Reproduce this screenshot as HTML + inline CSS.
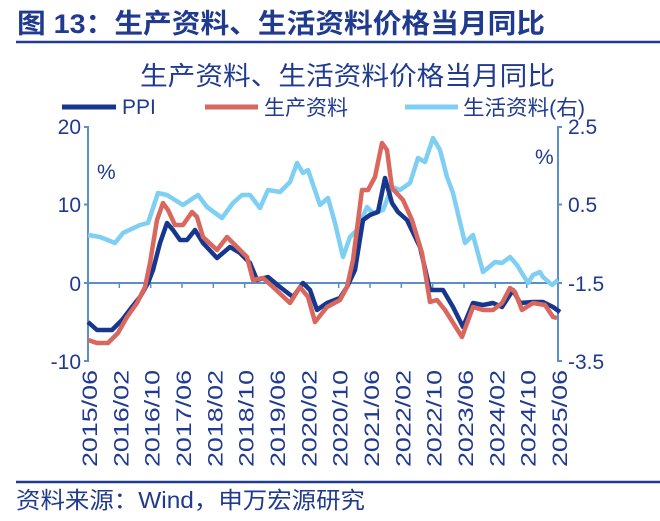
<!DOCTYPE html>
<html><head><meta charset="utf-8"><style>
body{margin:0;background:#fff;}
svg{display:block;font-family:"Liberation Sans","Noto Sans CJK SC",sans-serif;}
</style></head><body>
<svg width="660" height="521" viewBox="0 0 660 521" xmlns="http://www.w3.org/2000/svg">
<text x="17" y="33" font-size="27" font-weight="bold" fill="#1f3a8f" textLength="528" lengthAdjust="spacingAndGlyphs">图 13：生产资料、生活资料价格当月同比</text>
<line x1="16" y1="42" x2="660" y2="42" stroke="#1f3a8f" stroke-width="2.5"/>
<text x="140" y="85" font-size="26" fill="#1f3a8f" textLength="415" lengthAdjust="spacingAndGlyphs">生产资料、生活资料价格当月同比</text>
<line x1="62" y1="107" x2="116" y2="107" stroke="#17378f" stroke-width="5"/>
<text x="122" y="114" font-size="21" fill="#1f3a8f">PPI</text>
<line x1="205" y1="107" x2="258" y2="107" stroke="#d9675e" stroke-width="5"/>
<text x="264" y="115" font-size="21" fill="#1f3a8f">生产资料</text>
<line x1="405" y1="107" x2="458" y2="107" stroke="#7fcff3" stroke-width="5"/>
<text x="463" y="115" font-size="21" fill="#1f3a8f" textLength="122" lengthAdjust="spacingAndGlyphs">生活资料(右)</text>
<g stroke="#5b8fc9" stroke-width="2" fill="none">
<path d="M84 127H88V361H84"/>
<path d="M562 127H558V361H562"/>
<line x1="88" y1="204.5" x2="84" y2="204.5"/>
<line x1="558" y1="204.5" x2="562" y2="204.5"/>
<line x1="84" y1="283" x2="562" y2="283"/>
</g>
<g stroke="#5b8fc9" stroke-width="1.5">
<line x1="119.3" y1="283" x2="119.3" y2="288"/><line x1="150.7" y1="283" x2="150.7" y2="288"/><line x1="182" y1="283" x2="182" y2="288"/><line x1="213.3" y1="283" x2="213.3" y2="288"/><line x1="244.7" y1="283" x2="244.7" y2="288"/><line x1="276" y1="283" x2="276" y2="288"/><line x1="307.3" y1="283" x2="307.3" y2="288"/><line x1="338.7" y1="283" x2="338.7" y2="288"/><line x1="370" y1="283" x2="370" y2="288"/><line x1="401.3" y1="283" x2="401.3" y2="288"/><line x1="432.7" y1="283" x2="432.7" y2="288"/><line x1="464" y1="283" x2="464" y2="288"/><line x1="495.3" y1="283" x2="495.3" y2="288"/><line x1="526.7" y1="283" x2="526.7" y2="288"/>
</g>
<g font-size="21" fill="#1f3a8f" text-anchor="end">
<text x="81" y="134">20</text><text x="81" y="212">10</text><text x="81" y="291">0</text><text x="81" y="369">-10</text>
</g>
<g font-size="21" fill="#1f3a8f">
<text x="568" y="134">2.5</text><text x="568" y="212">0.5</text><text x="568" y="291">-1.5</text><text x="568" y="369">-3.5</text>
<text x="97" y="179">%</text><text x="535" y="164">%</text>
</g>
<polyline fill="none" stroke="#7fcff3" stroke-width="4.5" stroke-linejoin="round" points="88,235 100,237 115,243 123,233 140,225 148,223 158,193 167,195 183,205 198,195 207,207 222,218 233,203 242,195 250,195 260,208 268,190 280,192 290,182 297,163 303,173 308,170 320,205 328,198 335,223 343,257 350,237 357,230 367,207 373,213 383,210 392,187 400,190 410,183 418,158 425,162 433,138 440,150 447,177 453,193 465,243 473,235 483,272 495,262 502,263 510,257 517,265 528,283 533,275 540,272 543,277 552,285 558,280"/>
<polyline fill="none" stroke="#17378f" stroke-width="4.5" stroke-linejoin="round" points="88,322 97,330 112,330 122,320 132,307 140,297 148,283 153,270 160,243 167,223 173,230 180,240 187,240 195,230 203,243 217,258 230,247 240,253 250,263 257,280 268,277 280,287 293,297 303,283 310,290 317,310 327,303 340,298 347,287 355,270 363,220 370,215 378,212 385,178 392,203 398,212 407,220 420,247 430,290 443,290 453,307 463,327 473,303 483,305 493,303 502,307 513,290 520,303 533,302 543,302 553,307 560,312"/>
<polyline fill="none" stroke="#d9675e" stroke-width="4.5" stroke-linejoin="round" points="88,340 97,343 108,343 118,333 127,317 137,303 145,287 150,263 157,220 163,203 168,210 175,225 183,225 192,212 197,217 203,237 217,250 227,237 237,247 247,257 253,280 263,278 273,287 290,303 300,287 308,297 315,322 327,307 340,300 347,287 353,260 362,190 368,190 375,177 382,143 387,150 392,188 403,200 412,220 422,253 430,302 437,300 445,310 462,337 473,307 483,310 493,310 502,303 510,288 515,292 522,310 533,303 545,305 553,317 557,318"/>
<g font-size="21" fill="#1f3a8f">
<text transform="translate(97,467) rotate(-90)" textLength="97" lengthAdjust="spacingAndGlyphs">2015/06</text>
<text transform="translate(128.3,467) rotate(-90)" textLength="97" lengthAdjust="spacingAndGlyphs">2016/02</text>
<text transform="translate(159.7,467) rotate(-90)" textLength="97" lengthAdjust="spacingAndGlyphs">2016/10</text>
<text transform="translate(191,467) rotate(-90)" textLength="97" lengthAdjust="spacingAndGlyphs">2017/06</text>
<text transform="translate(222.3,467) rotate(-90)" textLength="97" lengthAdjust="spacingAndGlyphs">2018/02</text>
<text transform="translate(253.7,467) rotate(-90)" textLength="97" lengthAdjust="spacingAndGlyphs">2018/10</text>
<text transform="translate(285,467) rotate(-90)" textLength="97" lengthAdjust="spacingAndGlyphs">2019/06</text>
<text transform="translate(316.3,467) rotate(-90)" textLength="97" lengthAdjust="spacingAndGlyphs">2020/02</text>
<text transform="translate(347.7,467) rotate(-90)" textLength="97" lengthAdjust="spacingAndGlyphs">2020/10</text>
<text transform="translate(379,467) rotate(-90)" textLength="97" lengthAdjust="spacingAndGlyphs">2021/06</text>
<text transform="translate(410.3,467) rotate(-90)" textLength="97" lengthAdjust="spacingAndGlyphs">2022/02</text>
<text transform="translate(441.7,467) rotate(-90)" textLength="97" lengthAdjust="spacingAndGlyphs">2022/10</text>
<text transform="translate(473,467) rotate(-90)" textLength="97" lengthAdjust="spacingAndGlyphs">2023/06</text>
<text transform="translate(504.3,467) rotate(-90)" textLength="97" lengthAdjust="spacingAndGlyphs">2024/02</text>
<text transform="translate(535.7,467) rotate(-90)" textLength="97" lengthAdjust="spacingAndGlyphs">2024/10</text>
<text transform="translate(567,467) rotate(-90)" textLength="97" lengthAdjust="spacingAndGlyphs">2025/06</text>
</g>
<line x1="16" y1="482" x2="660" y2="482" stroke="#1f3a8f" stroke-width="2.5"/>
<text x="16" y="508" font-size="23" fill="#1f3a8f" textLength="349" lengthAdjust="spacingAndGlyphs">资料来源：Wind，申万宏源研究</text>
</svg>
</body></html>
